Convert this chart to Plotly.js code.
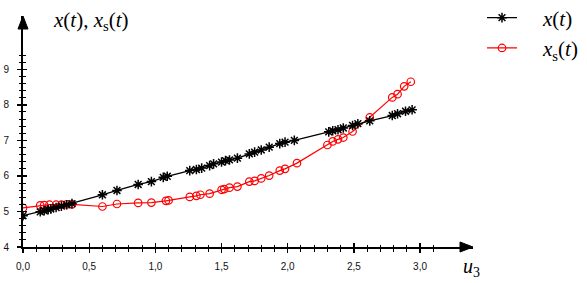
<!DOCTYPE html>
<html>
<head>
<meta charset="utf-8">
<script src="https://cdn.plot.ly/plotly-3.0.1.min.js"></script>
<style>html,body{margin:0;padding:0;background:#fff;}#chart{width:587px;height:283px;}</style>
</head>
<body>
<div id="chart"></div>
<script>
// u3 values and series
var uBlack = [0, 0.13, 0.16, 0.19, 0.21, 0.25, 0.29, 0.33, 0.37, 0.60, 0.71, 0.87, 0.97, 1.06, 1.09,
  1.26, 1.31, 1.35, 1.41, 1.44, 1.50, 1.53, 1.56, 1.62, 1.71, 1.75, 1.80, 1.86, 1.94, 1.98, 2.05,
  2.31, 2.34, 2.38, 2.42, 2.49, 2.53, 2.62, 2.79, 2.83, 2.89, 2.94];
var xBlack = [4.88, 4.99, 5.02, 5.05, 5.07, 5.11, 5.15, 5.19, 5.22, 5.47, 5.59, 5.76, 5.84, 5.96, 5.99,
  6.15, 6.18, 6.22, 6.29, 6.34, 6.39, 6.43, 6.45, 6.50, 6.62, 6.67, 6.73, 6.81, 6.91, 6.95, 7.00,
  7.24, 7.27, 7.30, 7.35, 7.42, 7.47, 7.55, 7.70, 7.75, 7.82, 7.86];

var uRed = [0, 0.13, 0.16, 0.20, 0.25, 0.29, 0.33, 0.37, 0.60, 0.71, 0.87, 0.97, 1.08, 1.10,
  1.26, 1.31, 1.34, 1.41, 1.50, 1.52, 1.56, 1.62, 1.71, 1.75, 1.80, 1.86, 1.94, 1.98, 2.07,
  2.30, 2.34, 2.38, 2.42, 2.49, 2.62, 2.79, 2.83, 2.88, 2.93];
var xsRed = [5.10, 5.17, 5.18, 5.19, 5.19, 5.19, 5.20, 5.20, 5.14, 5.21, 5.24, 5.25, 5.30, 5.31,
  5.41, 5.44, 5.47, 5.50, 5.61, 5.63, 5.67, 5.70, 5.84, 5.86, 5.93, 6.01, 6.15, 6.20, 6.36,
  6.87, 6.97, 7.03, 7.08, 7.25, 7.65, 8.21, 8.30, 8.52, 8.65];

var xTickVals = [0, 0.5, 1.0, 1.5, 2.0, 2.5, 3.0];
var xTickText = ['0,0', '0,5', '1,0', '1,5', '2,0', '2,5', '3,0'];
var yTickVals = [4, 5, 6, 7, 8, 9];
var yTickText = ['4', '5', '6', '7', '8', '9'];

var W = 587, H = 283;
var M = {l: 23, r: 114, t: 16, b: 36, autoexpand: false};
var XR = [0, 3.4], YR = [4, 10.5];

var xMinor = [], yMinor = [];
for (var i = 0; i <= 31; i++) xMinor.push(+(i * 0.1).toFixed(2));
for (var j = 0; j <= 27; j++) yMinor.push(+(4 + j * 0.2).toFixed(2));

var tickFont = {family: 'Liberation Sans, Arial, sans-serif', size: 10, color: '#111'};
var serif = 'Liberation Serif, Times New Roman, serif';

function axisBase(vals, text, range, minorVals, ticksDir, showLabels) {
  return {
    range: range, autorange: false, fixedrange: true, automargin: false,
    tickmode: 'array', tickvals: vals, ticktext: text,
    ticks: ticksDir, ticklen: 4, tickwidth: 1.3, tickcolor: '#000',
    minor: {tickmode: 'array', tickvals: minorVals, ticks: ticksDir, ticklen: 2.5, tickwidth: 1, tickcolor: '#000', showgrid: false},
    showline: true, linecolor: '#000', linewidth: 2,
    showgrid: false, zeroline: false,
    showticklabels: showLabels, tickfont: tickFont
  };
}

var xaxis = axisBase(xTickVals, xTickText, XR, xMinor, 'outside', true);
xaxis.ticklabelstandoff = 5;
var yaxis = axisBase(yTickVals, yTickText, YR, yMinor, 'outside', true);
yaxis.ticklabelstandoff = 6;
var xaxis2 = axisBase(xTickVals, xTickText, XR, xMinor, 'inside', false);
xaxis2.overlaying = 'x'; xaxis2.side = 'bottom'; xaxis2.anchor = 'y2';
var yaxis2 = axisBase(yTickVals, yTickText, YR, yMinor, 'inside', false);
yaxis2.overlaying = 'y'; yaxis2.side = 'left'; yaxis2.anchor = 'x2';

var pad = '&nbsp;&nbsp;&nbsp;&nbsp;';
var traces = [
  {x: uRed, y: xsRed, type: 'scatter', mode: 'lines+markers', name: pad + '<i>x</i><sub>s</sub>(<i>t</i>)',
   legendrank: 2,
   line: {color: '#ff0000', width: 1.2},
   marker: {symbol: 'circle-open', size: 7.5, color: '#ff0000', line: {width: 1.2, color: '#ff0000'}}},
  {x: uBlack, y: xBlack, type: 'scatter', mode: 'lines+markers', name: pad + '<i>x</i>(<i>t</i>)',
   legendrank: 1,
   line: {color: '#000', width: 1.3},
   marker: {symbol: 'asterisk-open', size: 8, color: '#000', line: {width: 1.5, color: '#000'}}},
  {x: [], y: [], xaxis: 'x2', yaxis: 'y2', type: 'scatter', mode: 'markers', showlegend: false, hoverinfo: 'skip'}
];

var pw = W - M.l - M.r, ph = H - M.t - M.b;
function px(dx) { return dx / pw; }
function py(dy) { return dy / ph; }
// arrowheads at the ends of the axes (paper coordinates)
var xArrow = 'M ' + (1 - px(13)) + ' ' + py(5) + ' L 1 0 L ' + (1 - px(13)) + ' ' + (-py(5)) + ' Z';
var yArrow = 'M ' + (-px(5)) + ' ' + (1 - py(13)) + ' L 0 1 L ' + px(5) + ' ' + (1 - py(13)) + ' Z';

var layout = {
  width: W, height: H, margin: M,
  paper_bgcolor: '#fff', plot_bgcolor: '#fff',
  showlegend: true,
  legend: {x: 1.02, y: 1.08, xanchor: 'left', yanchor: 'top', bgcolor: 'rgba(0,0,0,0)',
           font: {family: serif, size: 21, color: '#000'}, tracegroupgap: 0,
           itemwidth: 30},
  xaxis: xaxis, yaxis: yaxis, xaxis2: xaxis2, yaxis2: yaxis2,
  shapes: [
    {type: 'path', xref: 'paper', yref: 'paper', path: xArrow, fillcolor: '#000', line: {color: '#000', width: 1}},
    {type: 'path', xref: 'paper', yref: 'paper', path: yArrow, fillcolor: '#000', line: {color: '#000', width: 1}}
  ],
  annotations: [
    {xref: 'paper', yref: 'paper', x: px(28), y: 1 - py(5), xanchor: 'left', yanchor: 'middle', showarrow: false,
     text: '<i>x</i>(<i>t</i>), <i>x</i><sub>s</sub>(<i>t</i>)', font: {family: serif, size: 21, color: '#000'}},
    {xref: 'paper', yref: 'paper', x: 1 - px(12), y: -py(20), xanchor: 'left', yanchor: 'middle', showarrow: false,
     text: '<i>u</i><sub>3</sub>', font: {family: serif, size: 20, color: '#000'}}
  ]
};

Plotly.newPlot('chart', traces, layout, {staticPlot: true, displayModeBar: false});
</script>
</body>
</html>
